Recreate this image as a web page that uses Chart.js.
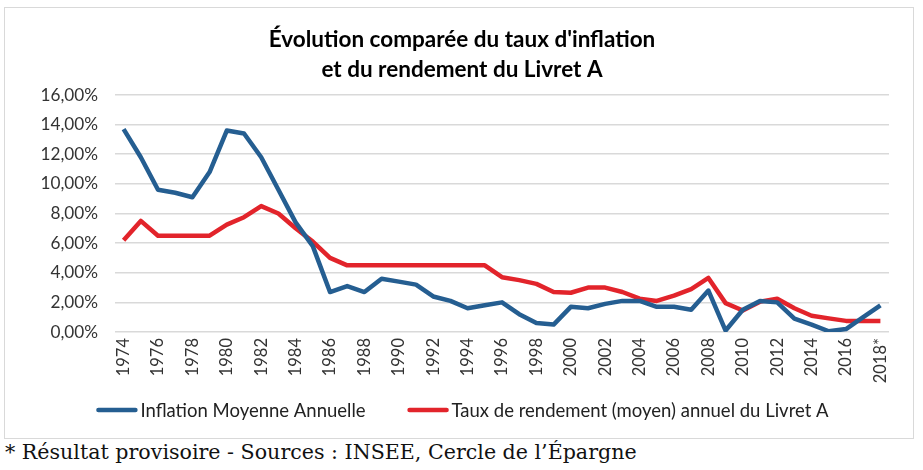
<!DOCTYPE html>
<html><head><meta charset="utf-8">
<script src="https://cdn.jsdelivr.net/npm/chart.js@4"></script>
<style>
html,body{margin:0;padding:0;background:#fff;width:923px;height:470px;overflow:hidden;}
#box{position:absolute;left:4px;top:7px;width:910px;height:432px;border:1px solid #d9d9d9;box-sizing:border-box;}
#box canvas{display:block;}
#note{position:absolute;left:5px;top:440px;font-family:"DejaVu Serif","Liberation Serif",serif;font-size:20.6px;color:#111;white-space:nowrap;}
</style></head><body>
<div id="box"><canvas id="c" width="908" height="430"></canvas></div>
<div id="note">* Résultat provisoire - Sources : INSEE, Cercle de l’Épargne</div>
<script>
const years = ['1974','1975','1976','1977','1978','1979','1980','1981','1982','1983','1984','1985','1986','1987','1988','1989','1990','1991','1992','1993','1994','1995','1996','1997','1998','1999','2000','2001','2002','2003','2004','2005','2006','2007','2008','2009','2010','2011','2012','2013','2014','2015','2016','2017','2018*'];
const inflation = [13.7,11.8,9.6,9.4,9.1,10.8,13.6,13.4,11.8,9.6,7.4,5.8,2.7,3.1,2.7,3.6,3.4,3.2,2.4,2.1,1.6,1.8,2.0,1.2,0.6,0.5,1.7,1.6,1.9,2.1,2.1,1.7,1.7,1.5,2.8,0.1,1.5,2.1,2.0,0.9,0.5,0.05,0.2,1.0,1.8];
const livretA = [6.2,7.5,6.5,6.5,6.5,6.5,7.25,7.75,8.5,8.0,7.0,6.1,5.0,4.5,4.5,4.5,4.5,4.5,4.5,4.5,4.5,4.5,3.7,3.5,3.25,2.7,2.65,3.0,3.0,2.7,2.25,2.1,2.45,2.9,3.65,1.95,1.45,2.05,2.25,1.6,1.1,0.92,0.75,0.75,0.75];
const yTicks = [0,2,4,6,8,10,12,14,16];
const seriesNames = ['Inflation Moyenne Annuelle','Taux de rendement (moyen) annuel du Livret A'];
const BLUE = '#255E91', RED = '#E2242B';
const FONT = 'Lato, Carlito, "Liberation Sans", sans-serif';

const lineLegend = {
  id: 'lineLegend',
  afterDraw(chart) {
    const ctx = chart.ctx;
    ctx.save();
    ctx.font = '18.5px ' + FONT;
    const items = chart.data.datasets.map(ds => ({text: ds.label, color: ds.borderColor, w: 44 + ctx.measureText(ds.label).width}));
    const gap = 42;
    const total = items.reduce((a, b) => a + b.w, 0) + gap * (items.length - 1);
    let x = 457.5 - total / 2;
    const y = 402;
    items.forEach(it => {
      ctx.strokeStyle = it.color;
      ctx.lineWidth = 4.5;
      ctx.lineCap = 'round';
      ctx.beginPath(); ctx.moveTo(x + 2, y); ctx.lineTo(x + 39, y); ctx.stroke();
      ctx.fillStyle = '#222';
      ctx.textBaseline = 'middle';
      ctx.textAlign = 'left';
      ctx.fillText(it.text, x + 44, y + 1);
      x += it.w + gap;
    });
    ctx.restore();
  }
};

new Chart(document.getElementById('c'), {
  type: 'line',
  data: {
    labels: years,
    datasets: [
      {label: seriesNames[0], data: inflation, borderColor: BLUE, backgroundColor: BLUE, borderWidth: 4.5, pointRadius: 0, tension: 0, borderJoinStyle: 'round'},
      {label: seriesNames[1], data: livretA, borderColor: RED, backgroundColor: RED, borderWidth: 4.5, pointRadius: 0, tension: 0, borderJoinStyle: 'round'}
    ]
  },
  plugins: [lineLegend],
  options: {
    responsive: false,
    animation: false,
    devicePixelRatio: 1,
    layout: {padding: {left: 30, right: 24, top: 0, bottom: 26}},
    plugins: {
      title: {
        display: true,
        text: ["Évolution comparée du taux d'inflation", 'et du rendement du Livret A'],
        color: '#000',
        font: {family: FONT, size: 22.5, weight: 'bold', lineHeight: 1.3333},
        padding: {top: 17, bottom: 10}
      },
      legend: {display: false},
      tooltip: {enabled: false}
    },
    scales: {
      x: {
        offset: true,
        grid: {display: false, drawTicks: false},
        border: {display: false},
        afterFit: s => { s.height = 80; },
        ticks: {
          autoSkip: false,
          minRotation: 90, maxRotation: 90,
          padding: 6,
          color: '#333',
          font: {family: FONT, size: 16.5},
          callback: function(v, i) { return i % 2 === 0 ? years[i] : ''; }
        }
      },
      y: {
        min: 0, max: 16,
        afterFit: s => { s.width = 80; },
        afterBuildTicks: s => { s.ticks = yTicks.map(v => ({value: v})); },
        grid: {color: '#d9d9d9', lineWidth: 1.5, drawTicks: false},
        border: {display: false},
        ticks: {
          padding: 17,
          color: '#333',
          font: {family: FONT, size: 17.2},
          callback: v => v.toFixed(2).replace('.', ',') + '%'
        }
      }
    }
  }
});
</script>
</body></html>
